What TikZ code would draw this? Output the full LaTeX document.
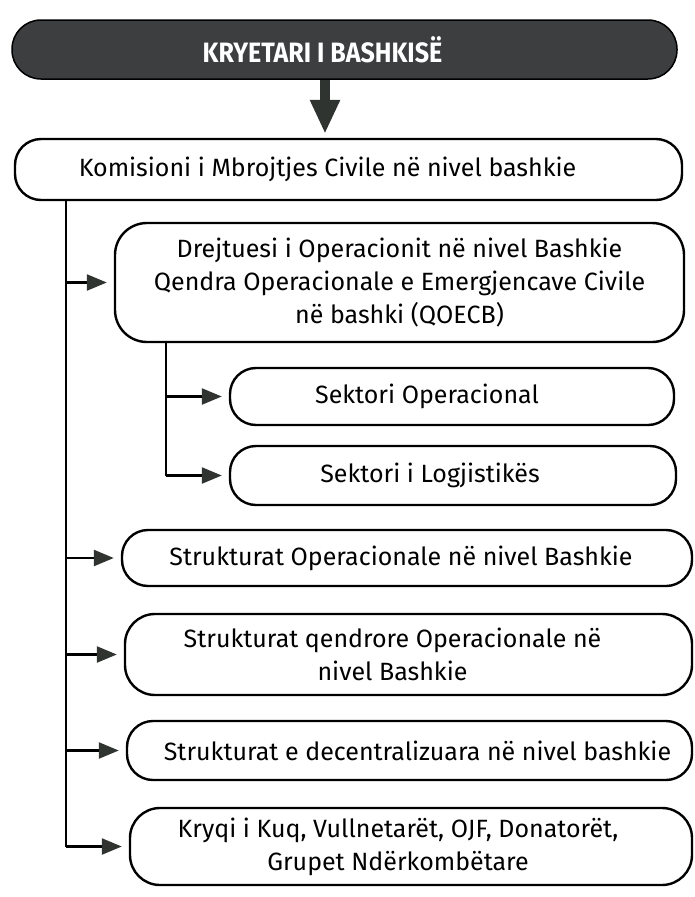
\documentclass[tikz,border=0pt]{standalone}
\usepackage{fontspec}
\usepackage{graphicx}
\setmainfont{Fira Sans}
\usetikzlibrary{arrows.meta,calc}
\definecolor{titlegray}{HTML}{3C3E40}
\definecolor{arrowgray}{HTML}{2F3431}
\tikzset{
  orgbox/.style={draw=black, line width=2.4pt, fill=white, rounded corners=26pt,
    inner sep=0pt, align=center, font=\fontsize{25}{33}\selectfont},
  titlebox/.style={draw=black, line width=1.5pt, fill=titlegray, rounded corners=29pt,
    inner sep=0pt, align=center, text=white},
  link/.style={draw=black, line width=2.4pt, shorten >=7pt,
    -{Triangle[length=20pt,width=16pt,color=arrowgray,fill=arrowgray]}},
  bigarrow/.style={draw=arrowgray, line width=10pt, shorten >=4pt,
    -{Triangle[length=34pt,width=28pt,color=arrowgray,fill=arrowgray]}}
}
\begin{document}
\begin{tikzpicture}[x=1pt,y=-1pt]
\useasboundingbox (0,0) rectangle (694,897);
% title
\node[titlebox, minimum width=665pt, minimum height=59pt] (kry) at (344.5,49.5)
  {\fontsize{28}{30}\selectfont\bfseries\scalebox{0.895}[1]{KRYETARI I BASHKISË}\hspace*{44pt}};
% main boxes
\node[orgbox, minimum width=667pt, minimum height=61pt] (kom) at (348.5,169.5)
  {Komisioni i Mbrojtjes Civile në nivel bashkie\hspace*{42pt}};
\node[orgbox, rounded corners=32pt, minimum width=569pt, minimum height=119pt] (dre) at (399.5,282.5)
  {Drejtuesi i Operacionit në nivel Bashkie\\Qendra Operacionale e Emergjencave Civile\\në bashki (QOECB)};
\node[orgbox, minimum width=444pt, minimum height=57pt] (sop) at (452,396.5)
  {Sektori Operacional\hspace*{50pt}};
\node[orgbox, minimum width=446pt, minimum height=59pt] (slo) at (453,475.5)
  {Sektori i Logjistikës\hspace*{46pt}};
\node[orgbox, minimum width=570pt, minimum height=56pt] (sto) at (407,558)
  {Strukturat Operacionale në nivel Bashkie\hspace*{12pt}};
\node[orgbox, rounded corners=30pt, minimum width=567pt, minimum height=81pt] (sqe) at (408.5,654.5)
  {Strukturat qendrore Operacionale në\hspace*{32pt}\\nivel Bashkie\hspace*{32pt}};
\node[orgbox, minimum width=565pt, minimum height=59pt] (sde) at (409.5,750.5)
  {\hspace*{16pt}Strukturat e decentralizuara në nivel bashkie};
\node[orgbox, rounded corners=30pt, minimum width=562pt, minimum height=77pt] (kqk) at (411,846.5)
  {Kryqi i Kuq, Vullnetarët, OJF, Donatorët,\hspace*{26pt}\\Grupet Ndërkombëtare\hspace*{26pt}};
% big arrow
\coordinate (dn) at (325,0);
\draw[bigarrow] (kry.south -| dn) -- (kom.north -| dn);
% trunk
\coordinate (t0) at (66,200);
\draw[line width=2.4pt] (t0) -- (t0 |- kqk.west);
\draw[link] (t0 |- dre.west) -- (dre.west);
\draw[link] (t0 |- sto.west) -- (sto.west);
\draw[link] (t0 |- sqe.west) -- (sqe.west);
\draw[link] (t0 |- sde.west) -- (sde.west);
\draw[link] (t0 |- kqk.west) -- (kqk.west);
% sub trunk
\coordinate (s0) at (166,342);
\draw[line width=2.4pt] (s0) -- (s0 |- slo.west);
\draw[link] (s0 |- sop.west) -- (sop.west);
\draw[link] (s0 |- slo.west) -- (slo.west);
\end{tikzpicture}
\end{document}
